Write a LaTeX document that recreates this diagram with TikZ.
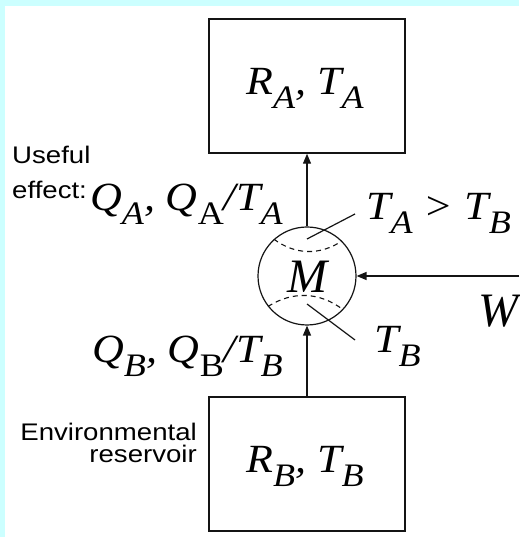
\documentclass[tikz,border=0pt]{standalone}
\usepackage{fontspec}
\setmainfont{Liberation Serif}
\setsansfont{Liberation Sans}
\usepackage{graphicx}
\usetikzlibrary{arrows.meta, positioning}
\definecolor{framecyan}{RGB}{204,255,255}
\definecolor{mydark}{RGB}{20,20,20}
\newcommand{\sv}[2]{#1\raisebox{-0.35em}{\scalebox{0.82}{#2}}}
\tikzset{
  reservoir/.style={rectangle, draw=mydark, minimum width=196pt,
    minimum height=134pt, line width=1.5pt},
  engine/.style={circle, draw=mydark, minimum size=98pt, line width=1.2pt},
  flow/.style={-{Triangle[length=10pt, width=8pt]}, line width=1.4pt, color=mydark},
  border/.style={dash pattern=on 5pt off 4pt, line width=1.1pt, color=mydark},
  leader/.style={line width=1.2pt, color=mydark},
  mathlbl/.style={font=\fontsize{40}{44}\selectfont\itshape, inner sep=0pt,
    transform shape, xscale=1.1},
  biglbl/.style={font=\fontsize{48}{52}\selectfont\itshape, inner sep=0pt},
  note/.style={font=\fontsize{24}{28}\selectfont\sffamily, inner sep=0pt,
    transform shape, xscale=1.15}
}
\begin{document}
\begin{tikzpicture}[x=1pt, y=1pt]
  % frame
  \fill[framecyan] (0,0) rectangle (519,537);
  \fill[white] (5,0) rectangle (519,531);
  \useasboundingbox (0,0) rectangle (519,537);
  % reservoirs and engine
  \node[reservoir] (RA) at (307,451) {};
  \node[reservoir] (RB) at (307,73) {};
  \node[engine] (M) at (307,261) {};
  \coordinate (Wsrc) at (519,261);
  % heat and work flows
  \draw[flow] (M.north) -- (RA.south);
  \draw[flow] (RB.north) -- (M.south);
  \draw[flow] (Wsrc) -- (M.east);
  % dashed hot/cold sides
  \draw[border] (M.132) to[bend right=35] (M.45);
  \draw[border] (M.218) to[bend left=35] (M.317);
  \coordinate (hot) at (307,298);
  \coordinate (hotend) at (355,323);
  \coordinate (cold) at (307,233);
  \coordinate (coldend) at (355,197);
  \draw[leader] (hot) -- (hotend);
  \draw[leader] (cold) -- (coldend);
  % labels
  \node[mathlbl] (ratxt) at (305,449) {\sv{R}{A}, \sv{T}{A}};
  \node[mathlbl] (rbtxt) at (305,71) {\sv{R}{B}, \sv{T}{B}};
  \node[biglbl] (mtxt) at (307,260) {M};
  \node[biglbl, anchor=base west] (wtxt) at (478,210) {W};
  \node[mathlbl, anchor=base west] (hottxt) at (366,317) {\sv{T}{A} > \sv{T}{B}};
  \node[mathlbl, anchor=base west] (coldtxt) at (374,184) {\sv{T}{B}};
  \node[mathlbl, anchor=base west] (qa) at (90,326) {\sv{Q}{A}, \sv{Q}{\upshape A}/\sv{T}{A}};
  \node[mathlbl, anchor=base west] (qb) at (92,174) {\sv{Q}{B}, \sv{Q}{\upshape B}/\sv{T}{B}};
  \node[note, anchor=base west] (useful) at (12,373) {Useful};
  \node[note, anchor=base west] (effect) at (12,338) {effect:};
  \node[note, anchor=base east] (env) at (197,96) {Environmental};
  \node[note, anchor=base east] (resv) at (197,74) {reservoir};
\end{tikzpicture}
\end{document}
